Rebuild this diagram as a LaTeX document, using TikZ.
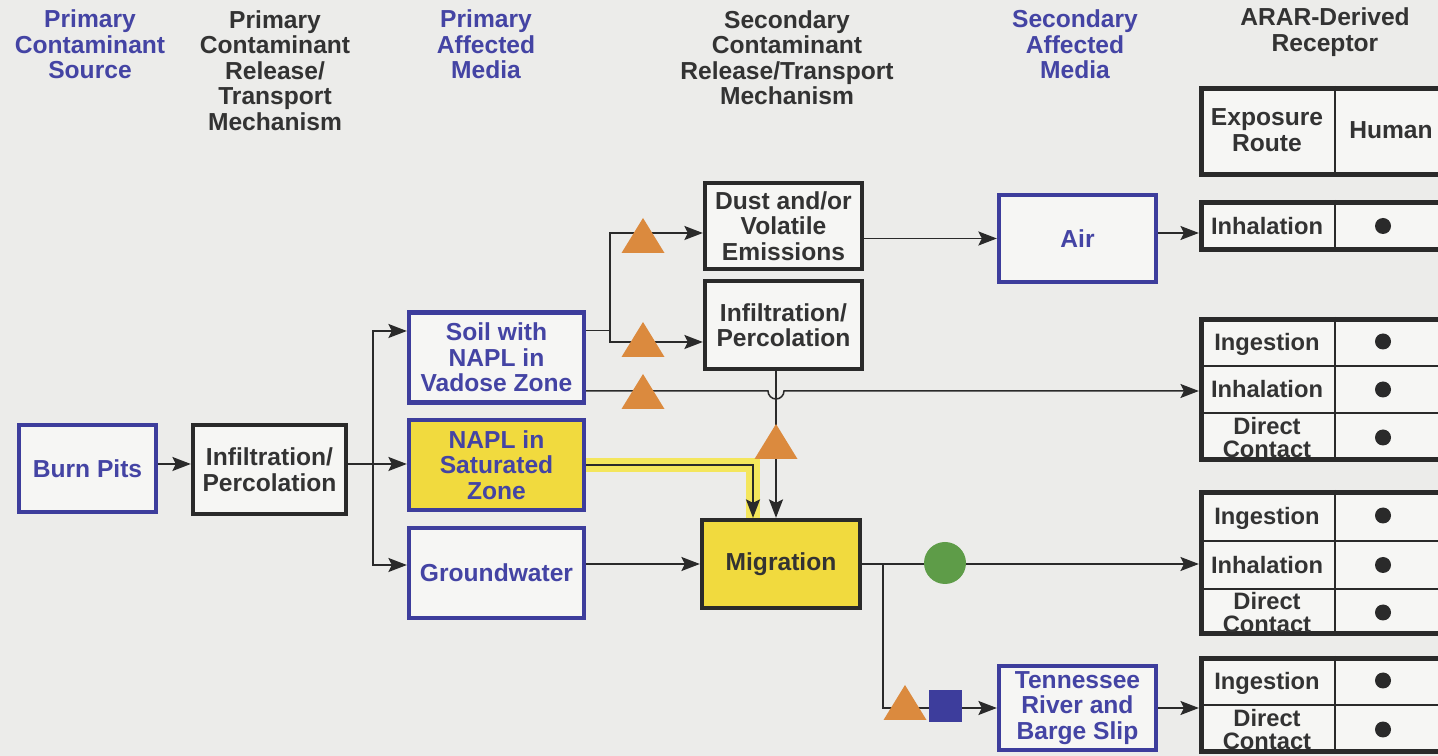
\documentclass[tikz,border=0pt]{standalone}
\usepackage{fontspec}
\setmainfont{Liberation Sans}
\usetikzlibrary{arrows.meta,calc,fit}
\definecolor{Navy}{HTML}{3D3D9C}
\definecolor{NavyText}{HTML}{4444A4}
\definecolor{Ink}{HTML}{2A2A2A}
\definecolor{InkText}{HTML}{333333}
\definecolor{Gold}{HTML}{F1DA3E}
\definecolor{Lemon}{HTML}{F4E65C}
\definecolor{Amber}{HTML}{DB8A3E}
\definecolor{Leaf}{HTML}{5E9C48}
\definecolor{Paper}{HTML}{ECECEA}
\definecolor{Card}{HTML}{F6F6F4}

\begin{document}
\begin{tikzpicture}[
  x=0.02cm,y=-0.02cm,
  font=\fontsize{14pt}{14.5pt}\selectfont\bfseries,
  blueb/.style={draw=Navy,line width=2.5pt,fill=Card,text=NavyText,
    align=center,inner sep=0pt},
  blackb/.style={draw=Ink,line width=2.5pt,fill=Card,text=InkText,
    align=center,inner sep=0pt},
  hot/.style={fill=Gold},
  wire/.style={line width=0.85pt,draw=Ink},
  arr/.style={-{Stealth[length=10.5pt,width=8pt,inset=2pt]},line width=0.85pt,draw=Ink},
  band/.style={line width=8.5pt,draw=Lemon},
  headblue/.style={text=NavyText,align=center},
  headgray/.style={text=InkText,align=center},
  grp/.style={draw=Ink,line width=3pt,fill=Card,inner sep=0pt},
  rule/.style={draw=Ink,line width=1.6pt},
  route/.style={text=InkText,align=center,
    font=\fontsize{13.5pt}{13.2pt}\selectfont\bfseries},
  dot/.style={circle,fill=Ink,minimum size=0.32cm,inner sep=0pt},
  hazard/.pic={\fill[Amber] (-21.5,0) -- (21.5,0) -- (0,-35) -- cycle;}
]
\path[use as bounding box,fill=Paper] (0,0) rectangle (1438,756);
\clip (0,0) rectangle (1438,756);

% Column headings.
\node[headblue] (hSrc) at (90,44.5) {Primary\\Contaminant\\Source};
\node[headgray] (hRel) at (275,70.5)
  {Primary\\Contaminant\\Release/\\Transport\\Mechanism};
\node[headblue] (hMed) at (486,44.5) {Primary\\Affected\\Media};
\node[headgray] (hSec) at (787,57.5)
  {Secondary\\Contaminant\\Release/Transport\\Mechanism};
\node[headblue] (hSMed) at (1075,44.5) {Secondary\\Affected\\Media};
\node[headgray] (hRec) at (1325,32) {ARAR-Derived\\Receptor};

% Sources, media and mechanisms.
\node[blueb,minimum width=2.74cm,minimum height=1.74cm] (burn) at (87.5,468.5) {Burn Pits};
\node[blackb,minimum width=3.06cm,minimum height=1.78cm] (infilA) at (269.5,469.5)
  {Infiltration/\\Percolation};
\node[blueb,minimum width=3.5cm,minimum height=1.8cm] (soil) at (496.5,357.5)
  {Soil with\\NAPL in\\Vadose Zone};
\node[blueb,hot,minimum width=3.5cm,minimum height=1.8cm] (napl) at (496.5,465)
  {NAPL in\\Saturated\\Zone};
\node[blueb,minimum width=3.5cm,minimum height=1.8cm] (gw) at (496.5,573) {Groundwater};
\node[blackb,minimum width=3.14cm,minimum height=1.72cm] (dust) at (783.5,226)
  {Dust and/or\\Volatile\\Emissions};
\node[blackb,minimum width=3.14cm,minimum height=1.76cm] (infilB) at (783.5,325)
  {Infiltration/\\Percolation};
\node[blackb,hot,minimum width=3.16cm,minimum height=1.76cm] (migr) at (781,564) {Migration};
\node[blueb,minimum width=3.14cm,minimum height=1.74cm] (air) at (1077.5,238.5) {Air};
\node[blueb,minimum width=3.14cm,minimum height=1.68cm] (tenn) at (1077.5,708)
  {Tennessee\\River and\\Barge Slip};

% Receptor table.
\foreach \g/\t/\b in {h/88.5/174.5,A/202.5/249.5,B/319.5/459.5,C/492.5/633.5,D/658.5/751.5}
  \node[grp,fit={(1201.5,\t) (1470,\b)}] (g\g) {};
\foreach \t/\b in {86/177,200/252,317/462,490/636,656/754}
  \draw[rule] (1335,\t) -- (1335,\b);
\foreach \y in {366,413,541,589,705}
  \draw[rule] (1201,\y) -- (1440,\y);
\node[headgray] (hExp) at (1267,130) {Exposure\\Route};
\node[headgray] (hHum) at (1391,130) {Human};
\foreach \n/\y/\txt in {a1/226/Inhalation,b1/344/Ingestion,b2/389.5/Inhalation,
    b3/437.5/{Direct\\Contact},c1/518/Ingestion,c2/565/Inhalation,
    c3/612.5/{Direct\\Contact},d1/683/Ingestion,d2/729.5/{Direct\\Contact}} {
  \node[route] (r\n) at (1267,\y) {\txt};
}
\foreach \n/\y in {a1/226,b1/341.5,b2/389.5,b3/437.5,c1/515.5,c2/565,
    c3/612.5,d1/680.5,d2/729.5}
  \node[dot] (d\n) at (1383,\y) {};

% Primary release.
\coordinate (fkP) at (373,464);
\draw[arr] (burn.east |- fkP) -- (infilA.west |- fkP);
\draw[wire] (infilA.east |- fkP) -- (fkP);
\draw[arr] (fkP) |- ($(soil.west)+(0,-26.5)$);
\draw[arr] (fkP) -- (napl.west |- fkP);
\draw[arr] (fkP) |- ($(gw.west)+(0,-8)$);

% Secondary release from soil.
\coordinate (soilA) at ($(soil.east)+(0,-27)$);
\coordinate (fkS) at ($(soilA)+(24,0)$);
\draw[wire] (soilA) -- (fkS);
\draw[arr] (fkS) |- ($(dust.west)+(0,7)$);
\draw[arr] (fkS) |- ($(infilB.west)+(0,17)$);
\coordinate (mA) at ($(migr.north)+(-28,0)$);
\coordinate (mB) at ($(migr.north)+(-5,0)$);
\coordinate (soilC) at ($(soil.east)+(0,33.5)$);
\draw[arr] (soilC) -- ($(mB |- soilC)+(-8,0)$)
  arc[start angle=180,end angle=0,radius=8] -- (soilC -| gB.west);
\draw[arr] (mB |- infilB.south) -- (mB);

% Saturated zone pathway.
\draw[band] (napl.east) -| (mA);
\draw[arr] (napl.east) -| (mA);
\draw[arr] (gw.east |- migr.west) -- (migr.west);

% To secondary media and receptors.
\draw[arr] (dust.east |- air.west) -- (air.west);
\coordinate (airO) at ($(air.east)+(0,-5.5)$);
\draw[arr] (airO) -- (airO -| gA.west);
\draw[arr] (migr.east) -- (migr.east -| gC.west);
\coordinate (fkM) at ($(migr.east)+(21,0)$);
\draw[arr] (fkM) |- (tenn.west);
\draw[arr] (tenn.east) -- (tenn.east -| gD.west);

% Pathway markers.
\foreach \x/\y in {643/253,643/357,643/409,776/459,905/720}
  \pic at (\x,\y) {hazard};
\fill[Leaf] (945,563) circle[radius=21];
\fill[Navy] (929,690) rectangle (962,722);
\end{tikzpicture}
\end{document}
